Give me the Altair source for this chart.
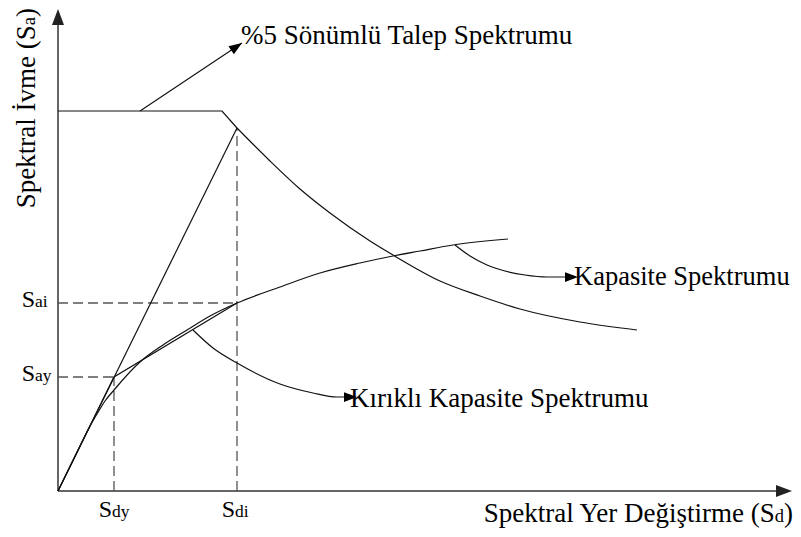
import altair as alt
import pandas as pd

# ---- data (plot units, origin at the corner of the axes) ----
demand_sd = [0, 164, 179, 212, 242, 272, 312, 335, 382, 422, 462, 522, 579]
demand_sa = [380, 380, 363, 330, 302, 278, 250, 236, 210, 195, 182, 169, 161]

cap_sd = [0, 22, 32, 39, 47, 56, 82, 105, 129, 152, 179, 222, 262, 302, 335, 362, 395, 450]
cap_sa = [0, 45, 65, 77, 90, 101, 129, 146, 161, 175, 188, 204, 218, 228, 235, 240, 246, 252]

Sdy, Say = 56, 114
Sdi, Sai = 179, 188
Sa_corner = 363

bilinear_sd = [0, Sdy, Sdi]
bilinear_sa = [0, Say, Sai]
elastic_sd = [0, Sdi]
elastic_sa = [0, Sa_corner]

# annotation leader lines
lead1_sd = [82, 184]
lead1_sa = [380, 448]
lead2_sd = [397, 412, 429, 447, 467, 489, 510]
lead2_sa = [246, 235, 226, 220, 216, 214, 214]
lead3_sd = [135, 155, 179, 222, 255, 279, 289]
lead3_sa = [161, 143, 128, 107, 98, 94, 94]

x_end, y_end = 734, 482

label_demand = "%5 Sönümlü Talep Spektrumu"
label_cap = "Kapasite Spektrumu"
label_bil = "Kırıklı Kapasite Spektrumu"
x_title = ["Spektral Yer Değiştirme (S", "d", ")"]
y_title = ["Spektral İvme (S", "a", ")"]
x_ticks = [Sdy, Sdi]
x_tick_sub = ["dy", "di"]
y_ticks = [Say, Sai]
y_tick_sub = ["ay", "ai"]

FONT = "Times New Roman, Liberation Serif, serif"
BIG = 27
SUB = 18.5
XS = alt.Scale(domain=[-50, 735], nice=False, zero=False)
YS = alt.Scale(domain=[-38, 483], nice=False, zero=False)


def X(f="x"):
    return alt.X(f"{f}:Q", scale=XS, axis=None)


def Y(f="y"):
    return alt.Y(f"{f}:Q", scale=YS, axis=None)


def line_df(xs, ys, name):
    return pd.DataFrame({"x": xs, "y": ys, "s": name, "o": range(len(xs))})


def curve(xs, ys, name, interp="linear", color="#111", width=1.2):
    return alt.Chart(line_df(xs, ys, name)).mark_line(
        interpolate=interp, color=color, strokeWidth=width
    ).encode(x=X(), y=Y(), order="o:Q")


demand = curve(demand_sd[:3], demand_sa[:3], "d1")
demand2 = curve(demand_sd[2:], demand_sa[2:], "d2", interp="monotone")
capacity = curve(cap_sd, cap_sa, "c", interp="monotone")
bilinear = curve(bilinear_sd, bilinear_sa, "b")
elastic = curve(elastic_sd, elastic_sa, "e")
lead1 = curve(lead1_sd, lead1_sa, "l1")
lead2 = curve(lead2_sd, lead2_sa, "l2", interp="monotone")
lead3 = curve(lead3_sd, lead3_sa, "l3", interp="monotone")

dash_df = pd.DataFrame({
    "x": [Sdy, Sdi, 0, 0],
    "x2": [Sdy, Sdi, Sdy, Sdi],
    "y": [0, 0, Say, Sai],
    "y2": [Say, Sa_corner, Say, Sai],
})
dashes = alt.Chart(dash_df).mark_rule(
    color="#555", strokeWidth=1.3, strokeDash=[10, 5]
).encode(x=X(), y=Y(), x2="x2:Q", y2="y2:Q")

axes_df = pd.DataFrame({"x": [0, 0], "x2": [x_end - 10, 0], "y": [0, 0], "y2": [0, y_end - 10]})
axes = alt.Chart(axes_df).mark_rule(color="#333", strokeWidth=1.5).encode(
    x=X(), y=Y(), x2="x2:Q", y2="y2:Q"
)

heads_df = pd.DataFrame({
    "x": [x_end, 0, lead1_sd[-1], lead2_sd[-1] + 10, lead3_sd[-1] + 10],
    "y": [0, y_end, lead1_sa[-1], lead2_sa[-1], lead3_sa[-1]],
    "angle": [90, 0, 56.3, 90, 90],
    "size": [256, 256, 169, 169, 169],
    "col": ["#222", "#222", "#000", "#000", "#000"],
})
heads = alt.Chart(heads_df).mark_point(
    shape="M0,0L0.75,2L-0.75,2Z", filled=True, opacity=1, strokeWidth=0
).encode(
    x=X(), y=Y(),
    angle=alt.Angle("angle:Q", scale=None),
    size=alt.Size("size:Q", scale=None),
    color=alt.Color("col:N", scale=None),
)

# right aligned texts
r_rows = []
for v in y_ticks:
    r_rows.append({"x": -23, "y": v - 4, "t": "S", "fs": 24})
for v in x_ticks:
    r_rows.append({"x": v - 2, "y": -26, "t": "S", "fs": 24})
r_rows.append({"x": 735, "y": -31, "t": x_title[2], "fs": BIG})
r_rows.append({"x": 726, "y": -31, "t": x_title[1], "fs": SUB})
r_rows.append({"x": 716.7, "y": -31, "t": x_title[0], "fs": BIG})
right_txt = alt.Chart(pd.DataFrame(r_rows)).mark_text(
    align="right", baseline="alphabetic", font=FONT, color="#000"
).encode(x=X(), y=Y(), text="t:N", size=alt.Size("fs:Q", scale=None))

l_rows = []
for v, s in zip(y_ticks, y_tick_sub):
    l_rows.append({"x": -23, "y": v - 4, "t": s, "fs": 17.5})
for v, s in zip(x_ticks, x_tick_sub):
    l_rows.append({"x": v - 2, "y": -26, "t": s, "fs": 17.5})
l_rows.append({"x": 183, "y": 447, "t": label_demand, "fs": BIG})
l_rows.append({"x": 516, "y": 206, "t": label_cap, "fs": 26.5})
l_rows.append({"x": 292, "y": 84, "t": label_bil, "fs": BIG})
left_txt = alt.Chart(pd.DataFrame(l_rows)).mark_text(
    align="left", baseline="alphabetic", font=FONT, color="#000"
).encode(x=X(), y=Y(), text="t:N", size=alt.Size("fs:Q", scale=None))

rot_df = pd.DataFrame({
    "x": [-23, -23, -23],
    "y": [483, 474, 465.8],
    "t": [y_title[2], y_title[1], y_title[0]],
    "fs": [BIG, SUB, BIG],
})
rot_txt = alt.Chart(rot_df).mark_text(
    align="right", baseline="alphabetic", font=FONT, color="#000", angle=270
).encode(x=X(), y=Y(), text="t:N", size=alt.Size("fs:Q", scale=None))

chart = alt.layer(
    axes, dashes, demand, demand2, capacity, bilinear, elastic,
    lead1, lead2, lead3, heads, right_txt, left_txt, rot_txt
).properties(
    width=785, height=521, padding=0,
    autosize=alt.AutoSizeParams(type="none"),
).configure_view(stroke=None)

chart.save("out.html", embed_options={"renderer": "svg", "actions": False})
